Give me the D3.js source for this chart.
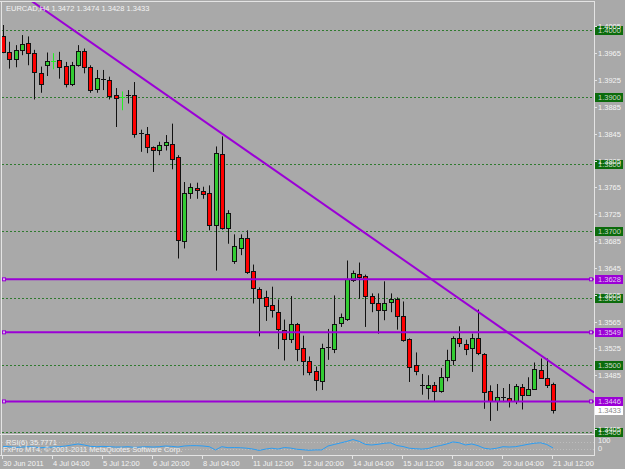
<!DOCTYPE html>
<html>
<head>
<meta charset="utf-8">
<script src="https://cdn.jsdelivr.net/npm/d3@7"></script>
<style>
body { margin: 0; background: #a9a9a9; }
svg { display: block; font-family: "Liberation Sans", Arial, sans-serif; }
</style>
</head>
<body>
<svg id="chart" width="625" height="469"></svg>
<script>
var title = "EURCAD,H4  1.3472 1.3474 1.3428 1.3433";

// H4 candles, oldest first
var opens  = [1.3991,1.3967,1.3957,1.3970,1.3980,1.3966,1.3936,1.3947,1.3952,1.3955,
              1.3946,1.3920,1.3948,1.3969,1.3944,1.3911,1.3926,1.3925,1.3903,1.3899,
              1.3903,1.3903,1.3846,1.3844,1.3825,1.3821,1.3828,1.3830,1.3810,1.3685,
              1.3756,1.3764,1.3759,1.3756,1.3709,1.3815,1.3705,1.3654,1.3675,1.3690,
              1.3640,1.3613,1.3601,1.3589,1.3579,1.3553,1.3539,1.3561,1.3526,1.3506,
              1.3491,1.3477,1.3527,1.3524,1.3563,1.3568,1.3627,1.3636,1.3633,1.3603,
              1.3592,1.3582,1.3593,1.3598,1.3573,1.3539,1.3500,1.3470,1.3467,1.3471,
              1.3461,1.3482,1.3507,1.3540,1.3532,1.3525,1.3540,1.3517,1.3461,1.3446,
              1.3452,1.3451,1.3446,1.3467,1.3456,1.3465,1.3493,1.3481,1.3472];
var highs  = [1.4007,1.3982,1.3977,1.3992,1.3990,1.3970,1.3945,1.3966,1.3965,1.3967,
              1.3952,1.3952,1.3977,1.3972,1.3947,1.3940,1.3940,1.3930,1.3913,1.3908,
              1.3910,1.3922,1.3851,1.3855,1.3826,1.3833,1.3843,1.3860,1.3813,1.3773,
              1.3771,1.3772,1.3766,1.3768,1.3826,1.3841,1.3731,1.3695,1.3695,1.3701,
              1.3650,1.3616,1.3611,1.3617,1.3598,1.3568,1.3603,1.3563,1.3544,1.3513,
              1.3498,1.3532,1.3554,1.3604,1.3577,1.3656,1.3641,1.3653,1.3635,1.3607,
              1.3607,1.3625,1.3607,1.3601,1.3595,1.3540,1.3519,1.3487,1.3485,1.3475,
              1.3496,1.3523,1.3543,1.3558,1.3538,1.3547,1.3583,1.3518,1.3470,1.3472,
              1.3466,1.3472,1.3472,1.3472,1.3482,1.3504,1.3510,1.3510,1.3474];
var lows   = [1.3965,1.3942,1.3944,1.3962,1.3947,1.3896,1.3906,1.3931,1.3941,1.3927,
              1.3914,1.3916,1.3945,1.3935,1.3906,1.3906,1.3910,1.3896,1.3855,1.3880,
              1.3890,1.3839,1.3818,1.3816,1.3788,1.3813,1.3820,1.3792,1.3659,1.3674,
              1.3748,1.3748,1.3748,1.3701,1.3641,1.3702,1.3681,1.3651,1.3664,1.3636,
              1.3592,1.3543,1.3566,1.3571,1.3524,1.3507,1.3533,1.3506,1.3485,1.3485,
              1.3462,1.3463,1.3508,1.3518,1.3557,1.3566,1.3624,1.3599,1.3557,1.3579,
              1.3547,1.3567,1.3579,1.3553,1.3535,1.3475,1.3485,1.3456,1.3449,1.3446,
              1.3459,1.3476,1.3500,1.3527,1.3515,1.3490,1.3515,1.3435,1.3417,1.3432,
              1.3445,1.3437,1.3442,1.3434,1.3455,1.3464,1.3480,1.3466,1.3428];
var closes = [1.3967,1.3956,1.3970,1.3979,1.3965,1.3938,1.3920,1.3953,1.3953,1.3945,
              1.3919,1.3948,1.3969,1.3945,1.3910,1.3928,1.3926,1.3901,1.3898,1.3900,
              1.3903,1.3845,1.3846,1.3824,1.3820,1.3828,1.3832,1.3808,1.3686,1.3757,
              1.3765,1.3761,1.3755,1.3709,1.3816,1.3705,1.3727,1.3677,1.3690,1.3639,
              1.3614,1.3599,1.3588,1.3581,1.3553,1.3539,1.3561,1.3524,1.3507,1.3490,
              1.3477,1.3526,1.3527,1.3562,1.3572,1.3628,1.3637,1.3631,1.3603,1.3593,
              1.3582,1.3592,1.3598,1.3572,1.3537,1.3498,1.3491,1.3470,1.3471,1.3462,
              1.3482,1.3508,1.3540,1.3532,1.3524,1.3540,1.3517,1.3460,1.3446,1.3452,
              1.3452,1.3447,1.3469,1.3455,1.3465,1.3495,1.3481,1.3470,1.3433];

// RSI(6)
var rsiValues = [45,43,39,41,43,41,37,39,41,43,47,53,59,53,45,43,45,43,41,41,
                 43,39,41,43,41,43,47,45,41,47,49,49,47,43,24,43,37,38,37,34,
                 29,21,29,34,29,38,35,28,25,22,24,24,47,56,65,74,85,74,56,53,
                 57,63,66,50,44,34,31,29,32,43,50,59,71,66,53,59,49,34,29,34,
                 43,41,43,50,57,63,66,56,35.7771];

var timeLabels = ["30 Jun 2011","4 Jul 04:00","5 Jul 12:00","6 Jul 20:00","8 Jul 04:00",
                  "11 Jul 12:00","12 Jul 20:00","14 Jul 04:00","15 Jul 12:00",
                  "18 Jul 20:00","20 Jul 04:00","21 Jul 12:00"];
var priceTicks = [1.4005,1.3965,1.3925,1.3885,1.3845,1.3805,1.3765,1.3725,
                  1.3685,1.3645,1.3605,1.3565,1.3525,1.3485,1.3445,1.3405];
var roundLevels = [1.4000,1.3900,1.3800,1.3700,1.3600,1.3500,1.3400];
var hLevels = [1.3628,1.3549,1.3446];
var trendPoints = [[5,1.4040],[88,1.3502]];
var lastPrice = 1.3433;

var svg = d3.select("#chart");
var W = 625, axisX = 594, mainBottom = 434, rsiBottom = 455;

var x = d3.scaleLinear().domain([0, 88]).range([3, 553]);
var y = d3.scaleLinear().domain([1.34, 1.40]).range([432.3, 29.7]);
var yr = d3.scaleLinear().domain([0, 100]).range([454, 437]);

svg.append("rect").attr("width", W).attr("height", 469).attr("fill", "#a9a9a9");

var defs = svg.append("defs");
defs.append("clipPath").attr("id", "mainClip").append("rect")
    .attr("x", 2).attr("y", 2).attr("width", axisX - 2).attr("height", mainBottom - 2);
defs.append("clipPath").attr("id", "rsiClip").append("rect")
    .attr("x", 2).attr("y", mainBottom + 1).attr("width", axisX - 2).attr("height", rsiBottom - mainBottom - 1);

var main = svg.append("g").attr("clip-path", "url(#mainClip)");

// round number levels
main.selectAll("line.lvl").data(roundLevels).enter().append("line")
    .attr("class", "lvl")
    .attr("x1", 2).attr("x2", axisX)
    .attr("y1", d => Math.round(y(d)) + 0.5).attr("y2", d => Math.round(y(d)) + 0.5)
    .attr("stroke", "#2f7a2f").attr("stroke-width", 1).attr("stroke-dasharray", "2,2");

// candles
var idx = d3.range(closes.length);
var cx = i => Math.round(x(i));

main.selectAll("line.wick").data(idx).enter().append("line")
    .attr("class", "wick")
    .attr("x1", i => cx(i) + 0.5).attr("x2", i => cx(i) + 0.5)
    .attr("y1", i => y(highs[i])).attr("y2", i => y(lows[i]))
    .attr("stroke", i => isDoji(i) && closes[i] > opens[i] ? "#22ee22" : "#111")
    .attr("stroke-width", 1);

function isDoji(i) { return Math.abs(closes[i] - opens[i]) < 0.00015; }

main.selectAll("rect.body").data(idx.filter(i => !isDoji(i))).enter().append("rect")
    .attr("class", "body")
    .attr("x", i => cx(i) - 1.5).attr("width", 4)
    .attr("y", i => Math.round(y(Math.max(opens[i], closes[i]))) + 0.5)
    .attr("height", i => Math.max(1, Math.round(Math.abs(y(opens[i]) - y(closes[i])))))
    .attr("fill", i => closes[i] > opens[i] ? "#33cc33" : "#ff0000")
    .attr("stroke", "#111").attr("stroke-width", 1);

main.selectAll("line.doji").data(idx.filter(isDoji)).enter().append("line")
    .attr("class", "doji")
    .attr("x1", i => cx(i) - 2).attr("x2", i => cx(i) + 3)
    .attr("y1", i => Math.round(y(closes[i])) + 0.5).attr("y2", i => Math.round(y(closes[i])) + 0.5)
    .attr("stroke", i => closes[i] > opens[i] ? "#22ee22" : "#111").attr("stroke-width", 1);

// horizontal support / resistance lines
var purple = "#9b00d6";
main.selectAll("line.h").data(hLevels).enter().append("line")
    .attr("class", "h")
    .attr("x1", 2).attr("x2", axisX)
    .attr("y1", d => y(d)).attr("y2", d => y(d))
    .attr("stroke", purple).attr("stroke-width", 2);
[4, 591].forEach(function(px) {
    main.selectAll(null).data(hLevels).enter().append("rect")
        .attr("x", px - 1.5).attr("y", d => y(d) - 1.5)
        .attr("width", 3).attr("height", 3)
        .attr("fill", "#d9b3ee").attr("stroke", purple).attr("stroke-width", 1);
});

// trend line, extended to the edges of the window
var slope = (trendPoints[1][1] - trendPoints[0][1]) / (trendPoints[1][0] - trendPoints[0][0]);
var tl = [x.invert(2), x.invert(axisX)].map(b => [b, trendPoints[0][1] + slope * (b - trendPoints[0][0])]);
main.append("line")
    .attr("x1", x(tl[0][0])).attr("y1", y(tl[0][1]))
    .attr("x2", x(tl[1][0])).attr("y2", y(tl[1][1]))
    .attr("stroke", purple).attr("stroke-width", 2);

// frame
var frame = "#e4e4e4";
svg.append("line").attr("x1", 0).attr("x2", axisX).attr("y1", 1.5).attr("y2", 1.5).attr("stroke", frame);
svg.append("line").attr("x1", 1.5).attr("x2", 1.5).attr("y1", 1).attr("y2", rsiBottom).attr("stroke", frame);
svg.append("line").attr("x1", axisX + 0.5).attr("x2", axisX + 0.5).attr("y1", 1).attr("y2", rsiBottom).attr("stroke", frame);
svg.append("line").attr("x1", 0).attr("x2", axisX).attr("y1", mainBottom + 0.5).attr("y2", mainBottom + 0.5).attr("stroke", frame);
svg.append("line").attr("x1", 0).attr("x2", axisX + 1).attr("y1", rsiBottom + 0.5).attr("y2", rsiBottom + 0.5).attr("stroke", frame);

// title
svg.append("text").attr("x", 6).attr("y", 10.5).attr("fill", "#f4f4f4")
    .attr("font-size", "7.5px").text(title);

// RSI sub window
var rsiG = svg.append("g").attr("clip-path", "url(#rsiClip)");
rsiG.selectAll("line.rl").data([70, 30]).enter().append("line")
    .attr("x1", 2).attr("x2", axisX).attr("y1", d => Math.round(yr(d)) + 0.5).attr("y2", d => Math.round(yr(d)) + 0.5)
    .attr("stroke", "#bdbdbd").attr("stroke-dasharray", "1,2");
rsiG.append("path").datum(rsiValues)
    .attr("d", d3.line().x((d, i) => x(i)).y(d => yr(d)))
    .attr("fill", "none").attr("stroke", "#2a9df4").attr("stroke-width", 1);
svg.append("text").attr("x", 6).attr("y", 444.5).attr("fill", "#f0f0f0")
    .attr("font-size", "7.5px").text("RSI(6) " + rsiValues[rsiValues.length - 1].toFixed(4));
svg.append("text").attr("x", 3).attr("y", 452).attr("fill", "#f0f0f0")
    .attr("font-size", "7.5px").text("FxPro MT4, \u00a9 2001-2011 MetaQuotes Software Corp.");
svg.append("text").attr("x", 598).attr("y", 442.5).attr("fill", "#f0f0f0").attr("font-size", "7.5px").text("100");
svg.append("text").attr("x", 598).attr("y", 451).attr("fill", "#f0f0f0").attr("font-size", "7.5px").text("0");

// price axis: green level boxes, ticks, purple boxes, bid box
var axis = svg.append("g").attr("font-size", "7.5px");
function box(price, bg, fg) {
    var yy = Math.round(y(price));
    axis.append("rect").attr("x", 595).attr("y", yy - 4).attr("width", 28).attr("height", 9).attr("fill", bg);
    axis.append("text").attr("x", 598).attr("y", yy + 3).attr("fill", fg).text(price.toFixed(4));
}
roundLevels.forEach(p => box(p, "#0b6b0b", "#c8d8c8"));

axis.selectAll("line.tick").data(priceTicks).enter().append("line")
    .attr("x1", axisX).attr("x2", axisX + 3)
    .attr("y1", d => Math.round(y(d)) + 0.5).attr("y2", d => Math.round(y(d)) + 0.5)
    .attr("stroke", frame);
axis.selectAll("text.tick").data(priceTicks).enter().append("text")
    .attr("class", "tick")
    .attr("x", 598).attr("y", d => y(d) + 3)
    .attr("fill", "#f4f4f4").text(d => d.toFixed(4));

hLevels.forEach(p => box(p, "#9b00d6", "#e0c8f0"));
box(lastPrice, "#ffffff", "#8a8a8a");

// time axis
var tAxis = svg.append("g").attr("font-size", "7.5px");
tAxis.selectAll("line").data(timeLabels).enter().append("line")
    .attr("x1", (d, i) => Math.round(x(i * 8)) - 0.5).attr("x2", (d, i) => Math.round(x(i * 8)) - 0.5)
    .attr("y1", rsiBottom).attr("y2", rsiBottom + 4).attr("stroke", frame);
tAxis.selectAll("text").data(timeLabels).enter().append("text")
    .attr("x", (d, i) => Math.round(x(i * 8)))
    .attr("y", 465.5).attr("fill", "#f4f4f4").text(d => d);
</script>
</body>
</html>
